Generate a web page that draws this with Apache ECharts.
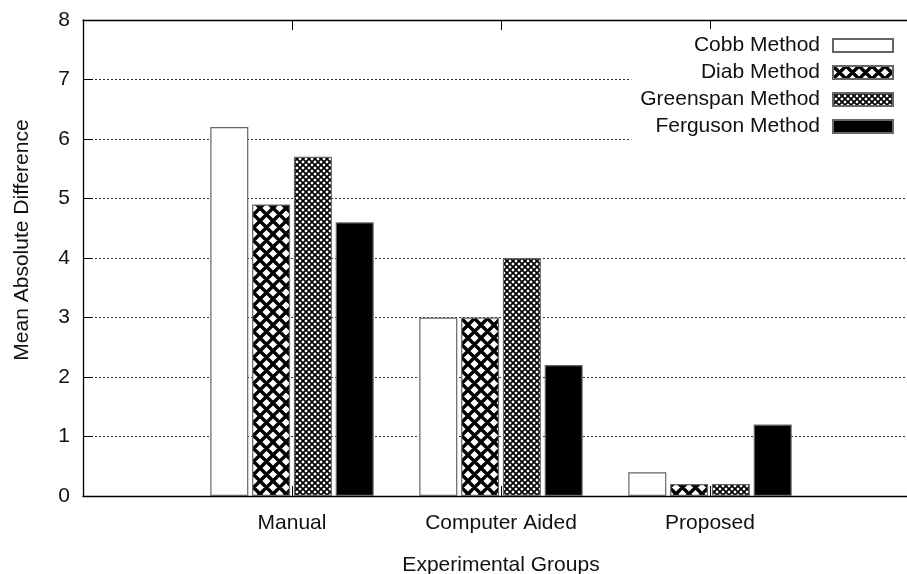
<!DOCTYPE html>
<html>
<head>
<meta charset="utf-8">
<script src="https://cdn.jsdelivr.net/npm/echarts@6/dist/echarts.min.js"></script>
<style>
html,body{margin:0;padding:0;background:#fff;}
#chart{width:907px;height:574px;}
</style>
</head>
<body>
<div id="chart"></div>
<script>
// ---- data ----
const categories = ['Manual', 'Computer Aided', 'Proposed'];
const seriesNames = ['Cobb Method', 'Diab Method', 'Greenspan Method', 'Ferguson Method'];
const cobb = [6.2, 3.0, 0.4];
const diab = [4.9, 3.0, 0.2];
const greenspan = [5.7, 4.0, 0.2];
const ferguson = [4.6, 2.2, 1.2];
const yMin = 0, yMax = 8, yStep = 1;

// x range spans one empty slot before and after the groups
const xData = [''].concat(categories).concat(['']);
const pad = v => ['-'].concat(v).concat(['-']);

function hatch(p, lw) {
  const c = document.createElement('canvas');
  c.width = p; c.height = p;
  const g = c.getContext('2d');
  g.fillStyle = '#fff';
  g.fillRect(0, 0, p, p);
  g.strokeStyle = '#000';
  g.lineWidth = lw;
  g.beginPath();
  for (let k = -1; k <= 1; k++) {
    g.moveTo(k * p, 0); g.lineTo(k * p + p, p);
    g.moveTo(k * p + p, 0); g.lineTo(k * p, p);
  }
  g.stroke();
  return c;
}

const fills = [
  '#ffffff',
  { image: hatch(13, 3.4), repeat: 'repeat' },
  { image: hatch(6, 1.7), repeat: 'repeat' },
  '#000000'
];
const values = [cobb, diab, greenspan, ferguson];

const font = 'Liberation Sans, Arial, sans-serif';
const fs = 21;
const chart = echarts.init(document.getElementById('chart'), null, { renderer: 'canvas' });

const tickShow = (i, v) => v !== '';

chart.setOption({
  animation: false,
  backgroundColor: '#fff',
  textStyle: { fontFamily: font },
  grid: { left: 83, top: 20, width: 836, height: 476, outerBoundsMode: 'none', containLabel: false },
  legend: {
    orient: 'vertical',
    right: 1,
    top: 29,
    align: 'right',
    itemWidth: 60,
    itemHeight: 13,
    itemGap: 6,
    icon: 'rect',
    backgroundColor: '#fff',
    padding: [6, 12, 6, 9],
    textStyle: { fontSize: fs, color: '#111', fontFamily: font, padding: [0, 8, 0, 0] },
    data: seriesNames
  },
  xAxis: [
    {
      type: 'category',
      data: xData,
      boundaryGap: false,
      position: 'bottom',
      axisLine: { show: true, lineStyle: { color: '#000', width: 1.3 } },
      axisTick: { show: true, inside: true, length: 10, interval: tickShow, lineStyle: { color: '#000', width: 1 } },
      axisLabel: { interval: 0, fontSize: fs, color: '#111', margin: 17, fontFamily: font },
      splitLine: { show: false },
      name: 'Experimental Groups',
      nameLocation: 'middle',
      nameGap: 59,
      nameTextStyle: { fontSize: fs, color: '#111', fontFamily: font }
    },
    {
      type: 'category',
      data: xData,
      boundaryGap: false,
      position: 'top',
      axisLine: { show: true, lineStyle: { color: '#000', width: 1.3 } },
      axisTick: { show: true, inside: true, length: 10, interval: tickShow, lineStyle: { color: '#000', width: 1 } },
      axisLabel: { show: false },
      splitLine: { show: false }
    }
  ],
  yAxis: [{
    type: 'value',
    min: yMin, max: yMax, interval: yStep,
    axisLine: { show: true, lineStyle: { color: '#000', width: 1.3 } },
    axisTick: { show: true, inside: true, length: 10, lineStyle: { color: '#000', width: 1 } },
    axisLabel: { fontSize: fs, color: '#111', margin: 13, fontFamily: font },
    splitLine: { show: true, lineStyle: { color: '#333', width: 1, type: [2, 2] } },
    name: 'Mean Absolute Difference',
    nameLocation: 'middle',
    nameGap: 50,
    nameTextStyle: { fontSize: fs, color: '#111', fontFamily: font, padding: [0, 0, 0, 36] }
  }],
  series: seriesNames.map((n, i) => ({
    name: n,
    type: 'bar',
    xAxisIndex: 0,
    data: pad(values[i]),
    barWidth: 38,
    barGap: '10%',
    itemStyle: { color: fills[i], borderColor: '#666', borderWidth: 1.2 }
  }))
});
</script>
</body>
</html>
